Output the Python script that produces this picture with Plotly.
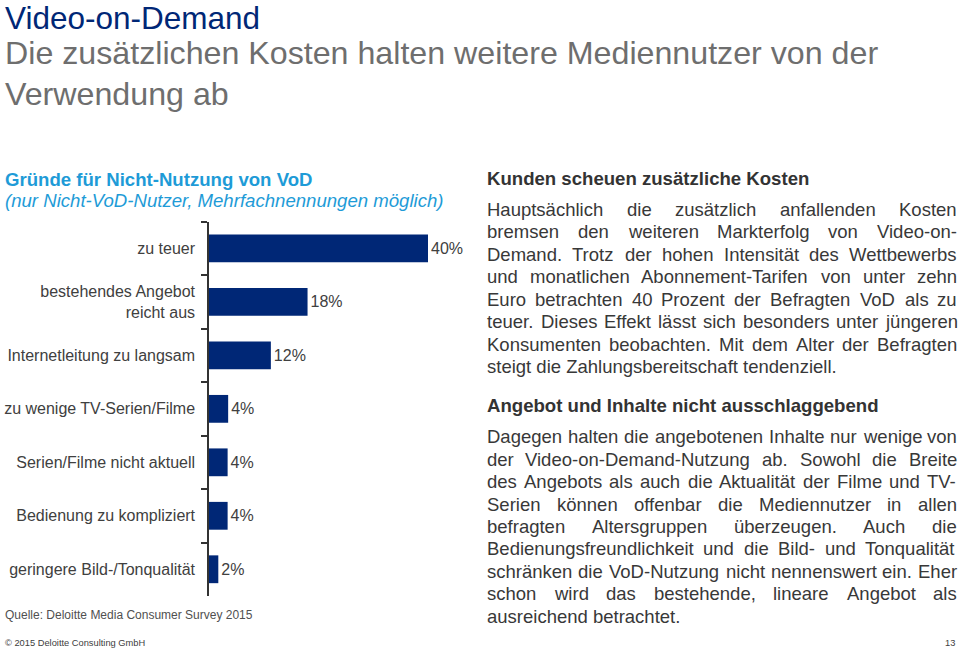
import plotly.graph_objects as go

# ---------------- data ----------------
categories = [
    "zu teuer",
    "bestehendes Angebot<br>reicht aus",
    "Internetleitung zu langsam",
    "zu wenige TV-Serien/Filme",
    "Serien/Filme nicht aktuell",
    "Bedienung zu kompliziert",
    "geringere Bild-/Tonqualität",
]
values = [40, 18, 11.3, 3.5, 3.4, 3.4, 1.7]          # bar lengths
value_labels = ["40%", "18%", "12%", "4%", "4%", "4%", "2%"]

title = "Video-on-Demand"
subtitle_lines = ["Die zusätzlichen Kosten halten weitere Mediennutzer von der", "Verwendung ab"]
chart_title = "Gründe für Nicht-Nutzung von VoD"
chart_subtitle = "(nur Nicht-VoD-Nutzer, Mehrfachnennungen möglich)"
source = "Quelle: Deloitte Media Consumer Survey 2015"
copyright_text = "© 2015 Deloitte Consulting GmbH"
page_no = "13"

heading1 = "Kunden scheuen zusätzliche Kosten"
body1 = [
    "Hauptsächlich die zusätzlich anfallenden Kosten",
    "bremsen den weiteren Markterfolg von Video-on-",
    "Demand. Trotz der hohen Intensität des Wettbewerbs",
    "und monatlichen Abonnement-Tarifen von unter zehn",
    "Euro betrachten 40 Prozent der Befragten VoD als zu",
    "teuer. Dieses Effekt lässt sich besonders unter jüngeren",
    "Konsumenten beobachten. Mit dem Alter der Befragten",
    "steigt die Zahlungsbereitschaft tendenziell.",
]
heading2 = "Angebot und Inhalte nicht ausschlaggebend"
body2 = [
    "Dagegen halten die angebotenen Inhalte nur wenige von",
    "der Video-on-Demand-Nutzung ab. Sowohl die Breite",
    "des Angebots als auch die Aktualität der Filme und TV-",
    "Serien können offenbar die Mediennutzer in allen",
    "befragten Altersgruppen überzeugen. Auch die",
    "Bedienungsfreundlichkeit und die Bild- und Tonqualität",
    "schränken die VoD-Nutzung nicht nennenswert ein. Eher",
    "schon wird das bestehende, lineare Angebot als",
    "ausreichend betrachtet.",
]

# ---------------- helpers ----------------
FONT = "Liberation Sans, Arial, Helvetica, sans-serif"
WPX, HPX = 960, 651


def fx(x):
    return x / WPX


def fy(y):
    return 1 - y / HPX


# Arial / Liberation Sans advance widths (1/1000 em)
AW = {" ": 278, "!": 278, "%": 889, "(": 333, ")": 333, ",": 278, "-": 333, ".": 278,
      "/": 278, ":": 278, "©": 737}
for c in "0123456789":
    AW[c] = 556
AW.update(dict(zip("ABCDEFGHIJKLMNOPQRSTUVWXYZ",
                   [667, 667, 722, 722, 667, 611, 778, 722, 278, 500, 667, 556, 833,
                    722, 778, 667, 778, 722, 667, 611, 722, 667, 944, 667, 667, 611])))
AW.update(dict(zip("abcdefghijklmnopqrstuvwxyz",
                   [556, 556, 500, 556, 556, 278, 556, 556, 222, 222, 500, 222, 833,
                    556, 556, 556, 556, 333, 500, 278, 556, 500, 722, 500, 500, 500])))
AW.update({"ä": 556, "ö": 556, "ü": 556, "ß": 611, "Ä": 667, "Ö": 778, "Ü": 722})


def text_width(s, size):
    return sum(AW.get(c, 556) for c in s) * size / 1000.0


annotations = []


def add_text(x, y, text, size, color, xanchor="left", yanchor="middle"):
    annotations.append(dict(
        x=fx(x), y=fy(y), xref="paper", yref="paper", text=text, showarrow=False,
        xanchor=xanchor, yanchor=yanchor, align="left", borderpad=0, borderwidth=0,
        font=dict(family=FONT, size=size, color=color)))


def add_paragraph(lines, x0, x1, y0, step, size, color):
    width = x1 - x0
    for i, line in enumerate(lines):
        y = y0 + i * step
        words = line.split(" ")
        if i == len(lines) - 1 or len(words) < 2:
            add_text(x0, y, line, size, color)
            continue
        total = sum(text_width(w, size) for w in words)
        gap = (width - total) / (len(words) - 1)
        x = x0
        for w in words:
            add_text(x, y, w, size, color)
            x += text_width(w, size) + gap


# ---------------- figure ----------------
fig = go.Figure(go.Bar(
    y=categories, x=values, orientation="h",
    marker=dict(color="#002776", line=dict(width=0)),
    text=value_labels, textposition="outside", constraintext="none",
    textfont=dict(family=FONT, size=16, color="#404040"),
    cliponaxis=False, hoverinfo="skip", showlegend=False,
))

# titles
add_text(5, 0, title, 31.5, "#002776", yanchor="top")
add_text(5, 53.5, subtitle_lines[0], 32.2, "#6e6e6e")
add_text(5, 94, subtitle_lines[1], 32.2, "#6e6e6e")
add_text(5, 179.5, "<b>" + chart_title + "</b>", 18.6, "#1e9bd7")
add_text(5, 200.5, "<i>" + chart_subtitle + "</i>", 18.6, "#1e9bd7")

# right text column
add_text(487, 178, "<b>" + heading1 + "</b>", 18.6, "#333333")
add_paragraph(body1, 487, 957, 209.5, 22.45, 18.5, "#383838")
add_text(487, 405, "<b>" + heading2 + "</b>", 18.6, "#333333")
add_paragraph(body2, 487, 957, 436.7, 22.45, 18.5, "#383838")

# footer
add_text(5, 615, source, 12, "#505050")
add_text(5, 643, copyright_text, 9.3, "#404040")
add_text(955, 643, page_no, 9.3, "#404040", xanchor="right")

fig.update_layout(
    width=WPX, height=HPX,
    margin=dict(l=0, r=0, t=0, b=0),
    paper_bgcolor="white", plot_bgcolor="white",
    bargap=0.48,
    font=dict(family=FONT),
    annotations=annotations,
    xaxis=dict(domain=[fx(209), fx(428)], range=[0, 40], visible=False, fixedrange=True),
    yaxis=dict(
        domain=[fy(596), fy(221.7)],
        type="category", categoryorder="array", categoryarray=categories,
        autorange="reversed",
        showline=True, linecolor="#333333", linewidth=1.5,
        ticks="outside", ticklen=6, tickwidth=1.5, tickcolor="#333333",
        tickson="boundaries", ticklabelstandoff=9,
        tickfont=dict(family=FONT, size=16, color="#404040"),
        showgrid=False, zeroline=False, fixedrange=True,
    ),
)

fig.write_html("out.html", config={"displayModeBar": False})
